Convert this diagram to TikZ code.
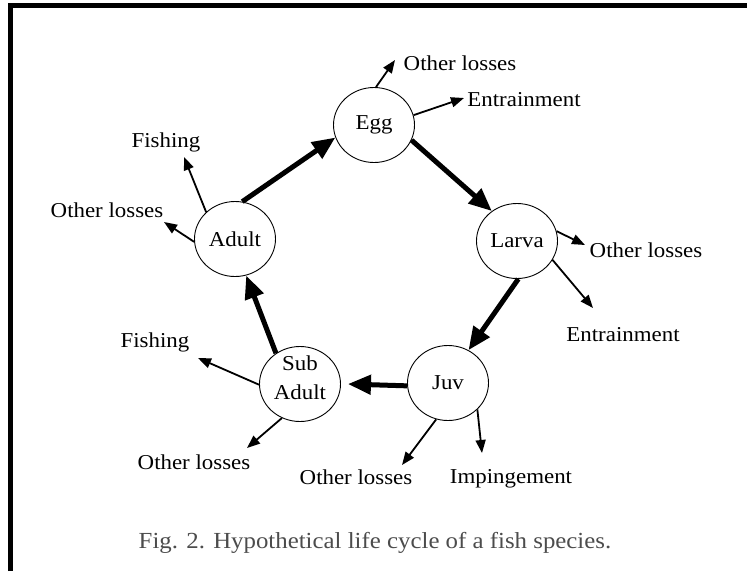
\documentclass[tikz,border=0pt]{standalone}
\usepackage{fontspec}
\setmainfont[FakeStretch=1.08]{Liberation Serif}
\usetikzlibrary{arrows.meta,shapes.geometric}
\begin{document}
\begin{tikzpicture}[x=1pt,y=-1pt,
  stage/.style={draw, ellipse, line width=0.9pt, minimum width=81pt, minimum height=75pt, inner sep=0pt, font=\fontsize{21.2}{23}\selectfont},
  lbl/.style={font=\fontsize{21.2}{23}\selectfont, inner sep=0pt},
  flow/.style={line width=5pt, -{Triangle[length=23pt,width=19pt]}},
  loss/.style={line width=1.8pt, -{Triangle[length=13pt,width=10pt]}}]
\useasboundingbox (0,0) rectangle (747,571);
% frame
\draw[line width=5pt] (10,571) -- (10,5.5) -- (747,5.5);
% stages
\node[stage] (egg) at (374,125) {Egg};
\node[stage] (larva) at (517,241) {Larva};
\node[stage] (juv) at (448,383) {Juv};
\node[stage] (sub) at (300,384) {};
\node[lbl, align=center, font=\fontsize{21.2}{29}\selectfont] (subtxt) at (300,378) {Sub\\Adult};
\node[stage] (adult) at (235,239) {Adult};
% loss labels
\node[lbl] (egglo) at (460,63) {Other losses};
\node[lbl] (egget) at (524,100) {Entrainment};
\node[lbl] (adfi) at (166,142) {Fishing};
\node[lbl] (adlo) at (107,210) {Other losses};
\node[lbl] (lalo) at (646,250) {Other losses};
\node[lbl] (laet) at (623,335) {Entrainment};
\node[lbl] (sufi) at (155,342) {Fishing};
\node[lbl] (sulo) at (194,462) {Other losses};
\node[lbl] (julo) at (356,477) {Other losses};
\node[lbl] (juim) at (511,479) {Impingement};
% caption
\node[font=\fontsize{23}{25}\selectfont, text=black!70, inner sep=0pt] (cap) at (375,543) {Fig. 2. Hypothetical life cycle of a fish species.};
% arrow ends
\coordinate (e1) at (395,60);
\coordinate (e2) at (464,98);
\coordinate (a1) at (184,157);
\coordinate (a2) at (164,222);
\coordinate (l1) at (585,245);
\coordinate (l2) at (593,308);
\coordinate (s1) at (198,358);
\coordinate (s2) at (247,448);
\coordinate (j1) at (402,465);
\coordinate (j2) at (482,453);
% life cycle
\draw[flow] (adult.79) -- (egg.198);
\draw[flow] (egg.-22) -- (larva.130);
\draw[flow] (larva.-88) -- (juv.58);
\draw[flow] (juv.184) -- ([xshift=7pt]sub.0);
\draw[flow] (sub.128) -- (adult.-73);
% losses
\draw[loss] (egg.87) -- (e1);
\draw[loss] (egg.14) -- (e2);
\draw[loss] (adult.137) -- (a1);
\draw[loss] (adult.184) -- (a2);
\draw[loss] (larva.14) -- (l1);
\draw[loss] (larva.-28) -- (l2);
\draw[loss] (sub.181) -- (s1);
\draw[loss] (sub.-118) -- (s2);
\draw[loss] (juv.-108) -- (j1);
\draw[loss] (juv.-42) -- (j2);
\end{tikzpicture}
\end{document}
